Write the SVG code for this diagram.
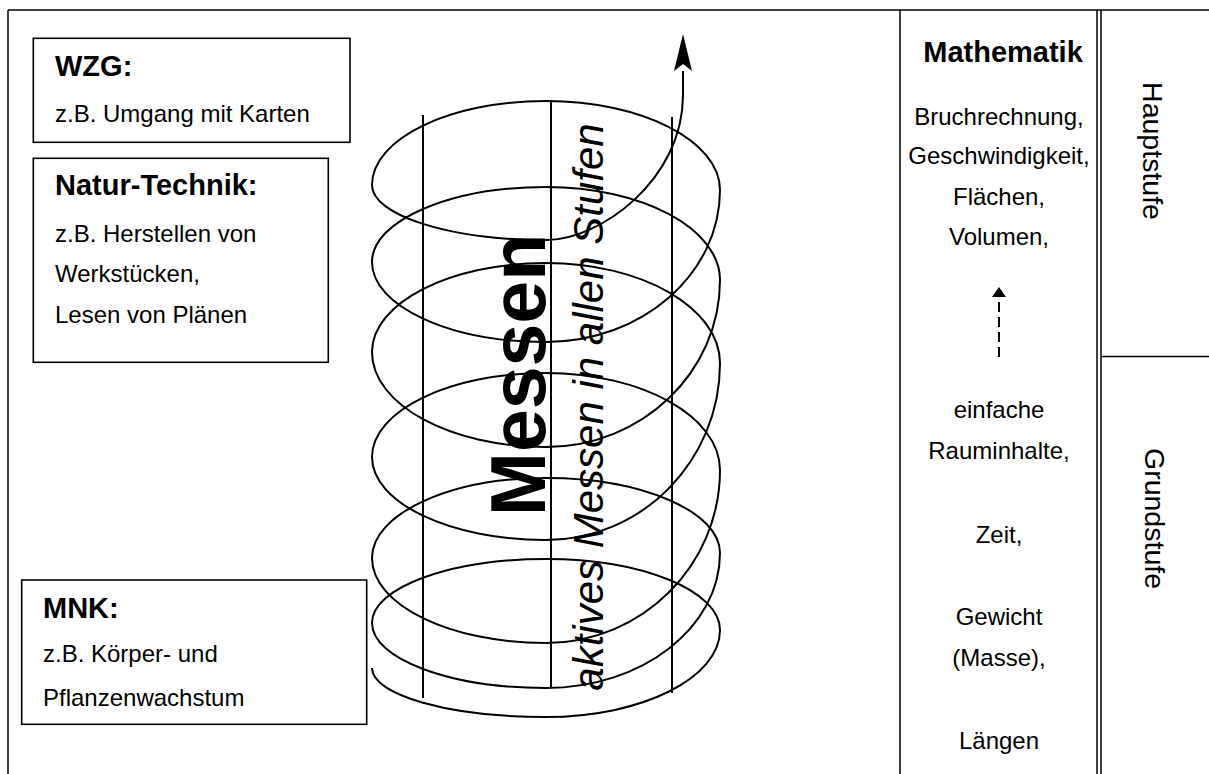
<svg xmlns="http://www.w3.org/2000/svg" width="1209" height="774" viewBox="0 0 1209 774">
<style>
  text { font-family: "Liberation Sans", Arial, sans-serif; fill: #000; }
  .h { font-size: 29px; font-weight: bold; }
  .t { font-size: 24px; }
  .c { text-anchor: middle; }
  .stage { font-size: 28.5px; text-anchor: middle; }
  .box { fill: none; stroke: #000; stroke-width: 1.6; }
  .frame { fill: none; stroke: #000; stroke-width: 1.5; }
  .wire { fill: none; stroke: #000; stroke-width: 2; }
</style>
<defs>
  <marker id="bigHead" markerUnits="userSpaceOnUse" markerWidth="38" markerHeight="20" refX="0" refY="10" orient="auto">
    <path d="M0,1 L37,10 L0,19 L7,10 z" fill="#000"/>
  </marker>
  <marker id="smallHead" markerUnits="userSpaceOnUse" markerWidth="11" markerHeight="14" refX="0" refY="7" orient="auto">
    <path d="M0,0 L10,7 L0,14 z" fill="#000"/>
  </marker>
</defs>
<rect width="1209" height="774" fill="#fff"/>

<g id="frame" class="frame">
  <line x1="8" y1="10" x2="1209" y2="10"/>
  <line x1="8" y1="10" x2="8" y2="774"/>
  <line x1="900" y1="10" x2="900" y2="774"/>
  <line x1="1097" y1="10" x2="1097" y2="774"/>
  <line x1="1101" y1="10" x2="1101" y2="774"/>
  <line x1="1101" y1="356.5" x2="1209" y2="356.5"/>
</g>

<g id="wzg">
  <rect class="box" x="33.3" y="38.3" width="316.7" height="104"/>
  <text class="h" x="55" y="76">WZG:</text>
  <text class="t" x="55" y="122">z.B. Umgang mit Karten</text>
</g>

<g id="natur-technik">
  <rect class="box" x="33.3" y="158.3" width="295" height="204"/>
  <text class="h" x="55" y="195">Natur-Technik:</text>
  <text class="t" x="55" y="242">z.B. Herstellen von</text>
  <text class="t" x="55" y="282">Werkstücken,</text>
  <text class="t" x="55" y="323">Lesen von Plänen</text>
</g>

<g id="mnk">
  <rect class="box" x="21.7" y="580" width="345" height="144.3"/>
  <text class="h" x="43" y="618">MNK:</text>
  <text class="t" x="43" y="662">z.B. Körper- und</text>
  <text class="t" x="43" y="705.5">Pflanzenwachstum</text>
</g>

<g id="spiral">
  <line class="wire" x1="423" y1="115" x2="423" y2="698"/>
  <line class="wire" x1="551" y1="100" x2="551" y2="688"/>
  <line class="wire" x1="672" y1="117" x2="672" y2="693"/>
  <path class="wire" d="M372,668
    C372,695.1 450,717 546,717
    C642,717 720,678 720,630
    C720,590.8 642,559 546,559
    C450,559 372,587.7 372,623
    C372,658.9 450,688 546,688
    C642,688 720,627.6 720,553
    C720,511.6 642,478 546,478
    C450,478 372,513.8 372,558
    C372,604.9 450,643 546,643
    C642,643 720,565.5 720,470
    C720,416.4 642,373 546,373
    C450,373 372,410.6 372,457
    C372,502.8 450,540 546,540
    C642,540 720,460.8 720,363
    C720,307.8 642,263 546,263
    C450,263 372,302.8 372,352
    C372,404.5 450,447 546,447
    C642,447 720,372.2 720,280
    C720,228.6 642,187 546,187
    C450,187 372,220.6 372,262
    C372,306.2 450,342 546,342
    C642,342 720,273.9 720,190
    C720,140.8 642,101 546,101
    C450,101 372,138.6 372,185
    C372,215.4 450,240 546,240"/>
</g>

<g id="messen-labels">
  <text transform="rotate(-90 545 375)" x="545" y="375" style="font-size:77px;font-weight:bold;text-anchor:middle">Messen</text>
  <text transform="rotate(-90 603 407)" x="603" y="407" style="font-size:42px;font-style:italic;text-anchor:middle">aktives Messen in allen Stufen</text>
</g>

<g id="mathematik">
  <text class="h c" x="1003" y="62">Mathematik</text>
  <text class="t c" x="999" y="125">Bruchrechnung,</text>
  <text class="t c" x="999" y="164">Geschwindigkeit,</text>
  <text class="t c" x="999" y="205">Flächen,</text>
  <text class="t c" x="999" y="245">Volumen,</text>
  <text class="t c" x="999" y="418">einfache</text>
  <text class="t c" x="999" y="459">Rauminhalte,</text>
  <text class="t c" x="999" y="543">Zeit,</text>
  <text class="t c" x="999" y="625">Gewicht</text>
  <text class="t c" x="999" y="666">(Masse),</text>
  <text class="t c" x="999" y="749">Längen</text>
</g>

<g id="hauptstufe">
  <text class="stage" transform="rotate(90 1143 151)" x="1143" y="151">Hauptstufe</text>
</g>

<g id="grundstufe">
  <text class="stage" transform="rotate(90 1145 518.5)" x="1145" y="518.5">Grundstufe</text>
</g>

<g id="connectors">
  <path class="wire" d="M546,240 C600,240 683,180 683,95 L683,71" marker-end="url(#bigHead)"/>
  <path d="M999,357 L999,297" fill="none" stroke="#000" stroke-width="2" stroke-dasharray="10 5" marker-end="url(#smallHead)"/>
</g>
</svg>
